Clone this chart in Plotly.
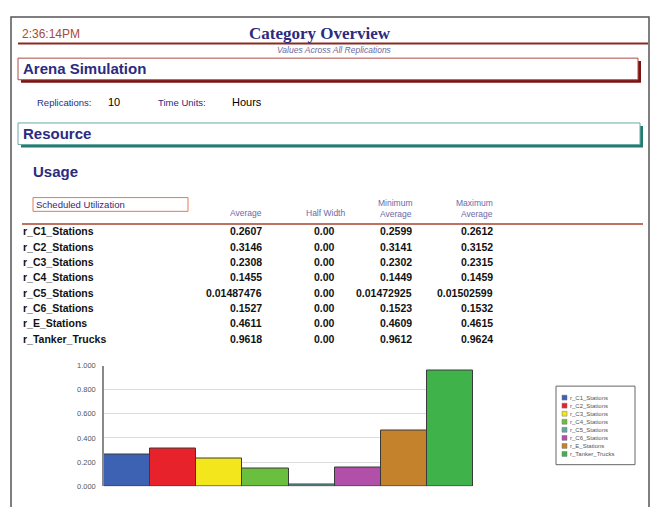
import plotly.graph_objects as go

# page body has an 8px margin; keep the figure inside the window
OFF = 8
W, H = 661 - 2 * OFF, 515 - 2 * OFF

# ---------------- data ----------------
categories = ["r_C1_Stations", "r_C2_Stations", "r_C3_Stations", "r_C4_Stations",
              "r_C5_Stations", "r_C6_Stations", "r_E_Stations", "r_Tanker_Trucks"]
avg_vals = ["0.2607", "0.3146", "0.2308", "0.1455", "0.01487476", "0.1527", "0.4611", "0.9618"]
half_width = ["0.00", "0.00", "0.00", "0.00", "0.00", "0.00", "0.00", "0.00"]
min_avg = ["0.2599", "0.3141", "0.2302", "0.1449", "0.01472925", "0.1523", "0.4609", "0.9612"]
max_avg = ["0.2612", "0.3152", "0.2315", "0.1459", "0.01502599", "0.1532", "0.4615", "0.9624"]
bar_colors = ["#3d62b3", "#e8222a", "#f4e61c", "#6bbf3f", "#5fa8a8", "#b24fa8", "#c4822c", "#3fb34a"]
y_ticks = [0.0, 0.2, 0.4, 0.6, 0.8, 1.0]

replications = "10"
time_units = "Hours"
report_time = "2:36:14PM"

# ---------------- helpers (window pixel -> paper) ----------------
def X(px):
    return (px - OFF) / W

def Y(py):
    return 1 - (py - OFF) / H

FONT = "Liberation Sans, Arial, sans-serif"
NAVY = "#2b2b80"

annotations = []
shapes = []

def text(x, y, s, size=10, color="black", anchor="left", bold=False, italic=False, family=FONT):
    if bold:
        s = "<b>" + s + "</b>"
    if italic:
        s = "<i>" + s + "</i>"
    annotations.append(dict(x=X(x), y=Y(y), xref="paper", yref="paper", text=s,
                            showarrow=False, xanchor=anchor, yanchor="middle",
                            font=dict(size=size, color=color, family=family),
                            borderpad=0))

def rect(x0, y0, x1, y1, line_color=None, fill=None, width=1):
    shapes.append(dict(type="rect", xref="paper", yref="paper",
                       x0=X(x0), x1=X(x1), y0=Y(y1), y1=Y(y0),
                       line=dict(color=line_color if line_color else "rgba(0,0,0,0)", width=width if line_color else 0),
                       fillcolor=fill if fill else "rgba(0,0,0,0)", layer="below"))

def hline(x0, x1, y, color, width=1):
    shapes.append(dict(type="line", xref="paper", yref="paper",
                       x0=X(x0), x1=X(x1), y0=Y(y), y1=Y(y),
                       line=dict(color=color, width=width), layer="below"))

# ---------------- page frame ----------------
shapes.append(dict(type="path", xref="paper", yref="paper",
                   path=f"M {X(11)},{Y(520)} L {X(11)},{Y(13)} L {X(649)},{Y(13)} L {X(649)},{Y(520)}",
                   line=dict(color="#555555", width=1.5), layer="below"))

# ---------------- header ----------------
text(21, 30, report_time, size=12, color="#a84a3a")
text(320, 30, "Category Overview", size=17, color=NAVY, anchor="center", bold=True,
     family="Liberation Serif, Times New Roman, serif")
hline(18, 648, 40, "#8b2a22", 2)
text(334, 47, "Values Across All Replications", size=8.5, color="#6a6aa0", anchor="center", italic=True)

# Arena Simulation box
rect(21, 58, 641, 80, fill="#7a1414")
rect(18, 55, 638, 77, line_color="#b04a40", fill="white", width=1)
text(22, 66, "Arena Simulation", size=15, color=NAVY, bold=True)

text(36, 100, "Replications:", size=9.5, color=NAVY)
text(107, 100, replications, size=11, color="black")
text(157, 100, "Time Units:", size=9.5, color=NAVY)
text(231, 100, time_units, size=11, color="black")

# Resource box
rect(21, 124, 643, 146, fill="#247a72")
rect(18, 121, 640, 143, line_color="#6aaaa4", fill="white", width=1)
text(22, 132, "Resource", size=15, color=NAVY, bold=True)

text(32, 170, "Usage", size=15, color=NAVY, bold=True)

# Scheduled Utilization box
rect(33, 197, 188, 211, line_color="#e8785a", fill="white", width=1)
text(35, 204, "Scheduled Utilization", size=9.5, color=NAVY)

HC = "#6a6aa8"
text(263, 213, "Average", size=8.5, color=HC, anchor="right")
text(346, 213, "Half Width", size=8.5, color=HC, anchor="right")
text(413, 203, "Minimum", size=8.5, color=HC, anchor="right")
text(413, 214, "Average", size=8.5, color=HC, anchor="right")
text(494, 203, "Maximum", size=8.5, color=HC, anchor="right")
text(494, 214, "Average", size=8.5, color=HC, anchor="right")
hline(22, 643, 224, "#a8452e", 1.5)

row_y0, row_dy = 231.3, 15.6
for i, name in enumerate(categories):
    yy = row_y0 + i * row_dy
    text(22, yy, name, size=10.5, color="#111111", bold=True)
    text(263, yy, avg_vals[i], size=10.5, color="#111111", bold=True, anchor="right")
    text(336, yy, half_width[i], size=10.5, color="#111111", bold=True, anchor="right")
    text(413, yy, min_avg[i], size=10.5, color="#111111", bold=True, anchor="right")
    text(494, yy, max_avg[i], size=10.5, color="#111111", bold=True, anchor="right")

# ---------------- legend (drawn manually) ----------------
rect(556, 389, 635, 469, line_color="#666666", fill="white", width=1)
for i, name in enumerate(categories):
    yy = 400.7 + i * 8.2
    shapes.append(dict(type="rect", xref="paper", yref="paper",
                       x0=X(562), x1=X(567), y0=Y(yy + 2.5), y1=Y(yy - 2.5),
                       line=dict(color="#777777", width=0.5), fillcolor=bar_colors[i], layer="above"))
    text(568.5, yy, name, size=6, color="#555555")

# ---------------- chart ----------------
bar_values = [float(v) for v in avg_vals]
fig = go.Figure(go.Bar(
    x=categories, y=bar_values, width=1,
    marker=dict(color=bar_colors, line=dict(color="#3a3a3a", width=1)),
    showlegend=False, hoverinfo="x+y",
))

fig.update_layout(
    width=W, height=H,
    margin=dict(l=0, r=0, t=0, b=0),
    paper_bgcolor="white", plot_bgcolor="white",
    bargap=0,
    showlegend=False,
    shapes=shapes,
    annotations=annotations,
    xaxis=dict(domain=[X(104), X(473)], showticklabels=False, showgrid=False,
               zeroline=False, showline=False, ticks=""),
    yaxis=dict(domain=[Y(491), Y(368)], range=[0, 1.0], tickvals=y_ticks,
               tickformat=".3f", showgrid=True, gridcolor="#dcdcdc", gridwidth=1,
               zeroline=False, showline=True, linecolor="#888888", linewidth=1.5,
               ticks="", ticklabelstandoff=5,
               tickfont=dict(size=7.5, color="#555555", family=FONT)),
)

fig.write_html("out.html")
